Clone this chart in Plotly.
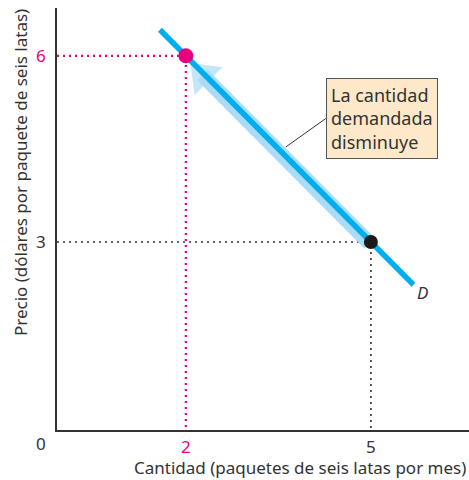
import plotly.graph_objects as go

# =====================================================
# DATA
# =====================================================

quantity = [2, 5]
price = [6, 3]
quantity_ticks = ["2", "5"]
price_ticks = ["6", "3"]

demand_x = [1.58, 5.69]
demand_y = [6.42, 2.31]

arrow_x = [4.98, 2.27]
arrow_y = [2.98, 5.69]

callout_text = "La cantidad<br>demandada<br>disminuye"
leader_x = [4.27, 3.62]
leader_y = [4.99, 4.53]

x_title = "Cantidad (paquetes de seis latas por mes)"
y_title = "Precio (dólares por paquete de seis latas)"

# =====================================================
# STYLE
# =====================================================

MAGENTA = "#e6007e"
CYAN = "#00aeef"
LIGHT_CYAN = "#aadcf6"
DARK = "#333333"
FONT = "Noto Sans"

x_range = [-0.088, 6.59]
y_range = [-0.03, 6.77]

fig = go.Figure()

# dotted guides (magenta for the new point, black for the old one)
guide_colors = [MAGENTA, DARK]
guide_widths = [2.2, 1.6]

for q, p, c, w in zip(quantity, price, guide_colors, guide_widths):

    fig.add_trace(
        go.Scatter(
            x=[x_range[0], q, q],
            y=[p, p, y_range[0]],
            mode="lines",
            line=dict(color=c, width=w, dash="2px,4px"),
            hoverinfo="skip",
            showlegend=False
        )
    )

# light movement arrow along the curve
fig.add_trace(
    go.Scatter(
        x=arrow_x,
        y=arrow_y,
        mode="lines+markers",
        line=dict(color=LIGHT_CYAN, width=15),
        marker=dict(
            symbol="triangle-up",
            size=[0, 34],
            color=LIGHT_CYAN,
            angleref="previous",
            line=dict(width=0)
        ),
        hoverinfo="skip",
        showlegend=False
    )
)

# demand curve
fig.add_trace(
    go.Scatter(
        x=demand_x,
        y=demand_y,
        mode="lines",
        line=dict(color=CYAN, width=5.5),
        hoverinfo="skip",
        showlegend=False
    )
)

# points
fig.add_trace(
    go.Scatter(
        x=quantity,
        y=price,
        mode="markers",
        marker=dict(
            color=[MAGENTA, "#1a1a1a"],
            size=[15, 14],
            opacity=1,
            line=dict(width=0)
        ),
        hoverinfo="skip",
        showlegend=False
    )
)

# leader line of the callout
fig.add_shape(
    type="line",
    x0=leader_x[0], y0=leader_y[0],
    x1=leader_x[1], y1=leader_y[1],
    line=dict(color=DARK, width=1)
)

fig.add_annotation(
    x=leader_x[0],
    y=leader_y[0],
    text=callout_text,
    showarrow=False,
    xanchor="left",
    yanchor="middle",
    align="left",
    font=dict(family=FONT, size=18, color=DARK),
    bgcolor="#fde9c9",
    bordercolor="#555555",
    borderwidth=1,
    borderpad=4
)

fig.add_annotation(
    x=demand_x[1] + 0.14,
    y=demand_y[1] - 0.12,
    text="<i>D</i>",
    showarrow=False,
    font=dict(family=FONT, size=17, color=DARK)
)

# origin label
fig.add_annotation(
    x=0,
    y=0,
    text="0",
    showarrow=False,
    xshift=-21,
    yshift=-15,
    font=dict(family=FONT, size=17, color=DARK)
)

# axis titles
fig.add_annotation(
    x=0.59,
    y=-0.09,
    xref="paper",
    yref="paper",
    xanchor="center",
    yanchor="middle",
    text=x_title,
    showarrow=False,
    font=dict(family=FONT, size=17, color=DARK)
)

fig.add_annotation(
    x=-0.09,
    y=0.611,
    xref="paper",
    yref="paper",
    xanchor="center",
    yanchor="middle",
    text=y_title,
    textangle=-90,
    showarrow=False,
    font=dict(family=FONT, size=17, color=DARK)
)

tick_colors = [MAGENTA, DARK]

fig.update_xaxes(
    range=x_range,
    tickvals=quantity,
    ticktext=[f"<span style='color:{c}'>{t}</span>"
              for t, c in zip(quantity_ticks, tick_colors)],
    ticks="",
    ticklabelstandoff=1,
    tickfont=dict(family=FONT, size=17, color=DARK),
    showgrid=False,
    zeroline=False,
    showline=True,
    linecolor=DARK,
    linewidth=1.5
)

fig.update_yaxes(
    range=y_range,
    tickvals=price,
    ticktext=[f"<span style='color:{c}'>{t}</span>"
              for t, c in zip(price_ticks, tick_colors)],
    ticks="",
    ticklabelstandoff=6,
    tickfont=dict(family=FONT, size=17, color=DARK),
    showgrid=False,
    zeroline=False,
    showline=True,
    linecolor=DARK,
    linewidth=1.5
)

fig.update_layout(
    width=469,
    height=480,
    margin=dict(l=57, r=0, t=8, b=50),
    plot_bgcolor="white",
    paper_bgcolor="white",
    showlegend=False
)

# drop the default page margin so the figure fills the window without scrollbars
fig.write_html(
    "out.html",
    config={"displayModeBar": False},
    post_script="document.body.style.margin='0';"
                "document.body.style.overflow='hidden';"
)
